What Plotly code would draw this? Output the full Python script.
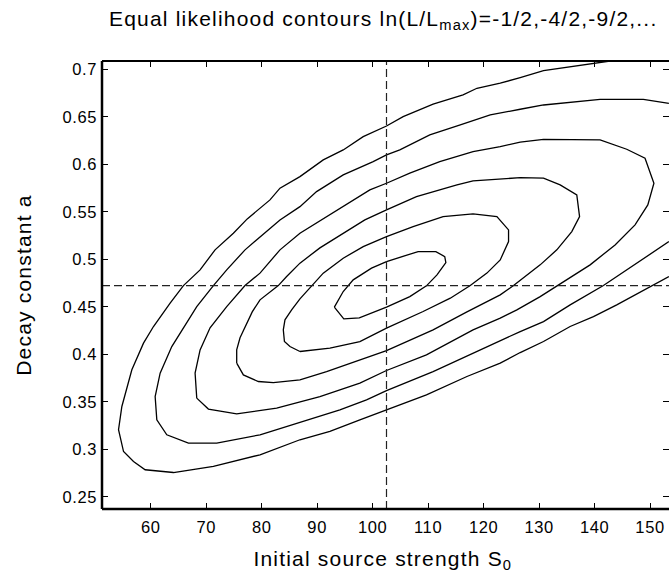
import plotly.graph_objects as go

# Maximum-likelihood estimate (dashed cross-hair)
S0_HAT = 102.5
A_HAT = 0.4723

# Contour lines ln(L/Lmax) = -1/2, -4/2, -9/2, -16/2, -25/2, -36/2
c1_s0 = [93.1, 94.8, 97.6, 102.5, 106.7, 109.7, 111.6, 113.2, 113.0, 111.4, 108.2, 105.5, 102.5, 99.8, 96.5, 94.7, 93.1]
c1_a = [0.4496, 0.4373, 0.4383, 0.4496, 0.4607, 0.4720, 0.4836, 0.4965, 0.5028, 0.5081, 0.5081, 0.5028, 0.4976, 0.4906, 0.4783, 0.4660, 0.4496]

c2_s0 = [86.9, 85.1, 84.1, 83.9, 84.2, 85.4, 86.9, 89.0, 91.1, 94.7, 98.3, 102.5, 107.3, 112.7, 118.1, 122.4, 124.5, 124.5, 123.0, 120.6, 117.6, 114.0, 109.1, 102.5, 97.7, 92.3, 86.9]
c2_a = [0.4029, 0.4081, 0.4134, 0.4257, 0.4362, 0.4467, 0.4583, 0.4723, 0.4854, 0.5011, 0.5133, 0.5239, 0.5344, 0.5449, 0.5477, 0.5449, 0.5309, 0.5186, 0.4993, 0.4854, 0.4723, 0.4590, 0.4450, 0.4275, 0.4134, 0.4064, 0.4029]

c3_s0 = [75.5, 75.5, 76.1, 76.9, 78.3, 79.7, 81.5, 83.0, 84.5, 86.9, 90.5, 95.0, 98.6, 102.5, 107.9, 115.2, 118.1, 126.6, 130.8, 133.8, 136.8, 137.3, 135.9, 133.2, 130.2, 125.4, 123.0, 117.0, 110.9, 102.5, 97.7, 91.7, 86.9, 82.1, 79.4, 76.7, 75.5]
c3_a = [0.3907, 0.4046, 0.4173, 0.4278, 0.4446, 0.4573, 0.4657, 0.4723, 0.4818, 0.4959, 0.5120, 0.5288, 0.5414, 0.5520, 0.5660, 0.5783, 0.5825, 0.5859, 0.5853, 0.5783, 0.5677, 0.5449, 0.5291, 0.5099, 0.4941, 0.4723, 0.4625, 0.4446, 0.4257, 0.4039, 0.3941, 0.3818, 0.3731, 0.3702, 0.3713, 0.3783, 0.3907]

c4_s0 = [68.3, 68.0, 68.9, 70.7, 73.7, 77.0, 79.7, 83.3, 86.9, 92.3, 99.5, 102.5, 106.7, 112.1, 118.1, 123.0, 126.6, 130.8, 141.0, 145.8, 149.1, 150.7, 149.6, 147.3, 143.7, 139.2, 133.2, 130.2, 126.0, 123.0, 118.1, 109.7, 102.5, 97.7, 90.5, 86.9, 82.7, 75.5, 70.4, 68.3]
c4_a = [0.3538, 0.3801, 0.4046, 0.4278, 0.4502, 0.4723, 0.4854, 0.5099, 0.5274, 0.5467, 0.5730, 0.5800, 0.5906, 0.6028, 0.6133, 0.6186, 0.6232, 0.6263, 0.6256, 0.6158, 0.6064, 0.5800, 0.5572, 0.5362, 0.5151, 0.4941, 0.4723, 0.4607, 0.4467, 0.4380, 0.4257, 0.3994, 0.3829, 0.3696, 0.3555, 0.3502, 0.3433, 0.3373, 0.3423, 0.3538]

c5_s0 = [153.4, 148.8, 141.0, 130.8, 126.6, 121.2, 115.8, 110.3, 104.9, 102.5, 100.1, 94.7, 89.9, 86.9, 83.3, 79.7, 77.0, 73.7, 71.3, 68.3, 65.3, 63.8, 61.7, 60.8, 61.1, 62.9, 66.8, 71.9, 79.7, 88.1, 94.1, 98.9, 102.5, 110.9, 118.1, 126.6, 130.8, 135.6, 141.6, 149.4, 153.4]
c5_a = [0.6642, 0.6684, 0.6684, 0.6624, 0.6579, 0.6519, 0.6414, 0.6309, 0.6151, 0.6098, 0.6028, 0.5888, 0.5712, 0.5554, 0.5414, 0.5239, 0.5099, 0.4888, 0.4723, 0.4502, 0.4222, 0.4081, 0.3801, 0.3555, 0.3310, 0.3152, 0.3065, 0.3065, 0.3152, 0.3310, 0.3415, 0.3520, 0.3618, 0.3818, 0.4012, 0.4239, 0.4344, 0.4520, 0.4723, 0.5028, 0.5186]

c6_s0 = [142.8, 139.8, 130.8, 126.6, 123.0, 118.8, 116.3, 110.9, 105.5, 102.5, 98.3, 94.7, 91.1, 86.9, 83.3, 81.5, 77.4, 74.9, 71.6, 68.9, 65.9, 63.5, 60.5, 58.7, 56.6, 54.8, 54.2, 55.1, 56.9, 59.0, 64.1, 71.3, 79.7, 86.9, 92.3, 97.7, 102.5, 109.7, 117.0, 123.0, 126.6, 130.8, 135.6, 139.8, 144.0, 150.3, 153.4]
c6_a = [0.7087, 0.7063, 0.6985, 0.6912, 0.6853, 0.6800, 0.6730, 0.6632, 0.6501, 0.6403, 0.6291, 0.6151, 0.6046, 0.5870, 0.5748, 0.5625, 0.5425, 0.5274, 0.5099, 0.4888, 0.4723, 0.4538, 0.4292, 0.4117, 0.3836, 0.3450, 0.3205, 0.2976, 0.2871, 0.2784, 0.2755, 0.2819, 0.2942, 0.3100, 0.3187, 0.3310, 0.3415, 0.3573, 0.3766, 0.3907, 0.4018, 0.4134, 0.4292, 0.4397, 0.4520, 0.4723, 0.4818]

x_ticks = [60, 70, 80, 90, 100, 110, 120, 130, 140, 150]
y_ticks = [0.25, 0.3, 0.35, 0.4, 0.45, 0.5, 0.55, 0.6, 0.65, 0.7]
y_ticklabels = ["0.25", "0.3", "0.35", "0.4", "0.45", "0.5", "0.55", "0.6", "0.65", "0.7"]

X_RANGE = [51.22, 153.42]
Y_RANGE = [0.2371, 0.7087]

FONT = "Arial, Liberation Sans, Helvetica, sans-serif"

fig = go.Figure()
for s, a in [(c1_s0, c1_a), (c2_s0, c2_a), (c3_s0, c3_a), (c4_s0, c4_a), (c5_s0, c5_a), (c6_s0, c6_a)]:
    fig.add_trace(go.Scatter(x=s, y=a, mode="lines", line=dict(color="black", width=1.3),
                             hoverinfo="skip", showlegend=False))

# dashed cross-hair at the maximum-likelihood estimate
fig.add_shape(type="line", xref="x", yref="paper", x0=S0_HAT, x1=S0_HAT, y0=0, y1=1,
              line=dict(color="#222", width=1.2, dash="8px,4px"))
fig.add_shape(type="line", xref="paper", yref="y", x0=0, x1=1, y0=A_HAT, y1=A_HAT,
              line=dict(color="#222", width=1.2, dash="8px,4px"))

# frame (left, bottom thick; top thinner)
fig.add_shape(type="line", xref="paper", yref="paper", x0=0, x1=0, y0=0, y1=1, line=dict(color="black", width=2.5))
fig.add_shape(type="line", xref="paper", yref="paper", x0=0, x1=1, y0=0, y1=0, line=dict(color="black", width=2.5))
fig.add_shape(type="line", xref="paper", yref="paper", x0=0, x1=1, y0=1, y1=1, line=dict(color="black", width=1.8))

fig.update_layout(
    width=669, height=584, autosize=False,
    margin=dict(l=102, r=0, t=61, b=75),
    paper_bgcolor="white", plot_bgcolor="white",
    font=dict(family=FONT, size=16, color="black"),
    xaxis=dict(range=X_RANGE, tickvals=x_ticks, ticks="inside", ticklen=6, tickwidth=1.2,
               tickcolor="black", mirror="ticks", showline=False, showgrid=False, zeroline=False,
               tickfont=dict(size=16.5), ticklabelstandoff=6),
    yaxis=dict(range=Y_RANGE, tickvals=y_ticks, ticktext=y_ticklabels, ticks="inside", ticklen=6,
               tickwidth=1.2, tickcolor="black", mirror="ticks", showline=False, showgrid=False,
               zeroline=False, tickfont=dict(size=16.5), ticklabelstandoff=4),
    annotations=[
        dict(text="Equal likelihood contours ln(L/L<sub>max</sub>)=-1/2,-4/2,-9/2,...",
             xref="paper", yref="paper", x=0.4956, y=1.0915, xanchor="center", yanchor="middle",
             showarrow=False, font=dict(size=21)),
        dict(text="Initial source strength S<sub>0</sub>",
             xref="paper", yref="paper", x=0.4956, y=-0.114, xanchor="center", yanchor="middle",
             showarrow=False, font=dict(size=21)),
        dict(text="Decay constant a", textangle=-90,
             xref="paper", yref="paper", x=-0.139, y=0.5, xanchor="center", yanchor="middle",
             showarrow=False, font=dict(size=21)),
    ],
)

# the reference text is set slightly wider than plain Arial
POST = """
var gd = document.getElementById('{plot_id}');
function ls(){
  gd.querySelectorAll('g.annotation text').forEach(function(t){ t.style.letterSpacing='1.2px'; });
  gd.querySelectorAll('g.xtick text, g.ytick text').forEach(function(t){ t.style.letterSpacing='0.6px'; });
}
ls();
setTimeout(ls, 30);
if (gd.on) { gd.on('plotly_afterplot', ls); }
"""

fig.write_html("out.html", config={"displayModeBar": False}, post_script=POST)
